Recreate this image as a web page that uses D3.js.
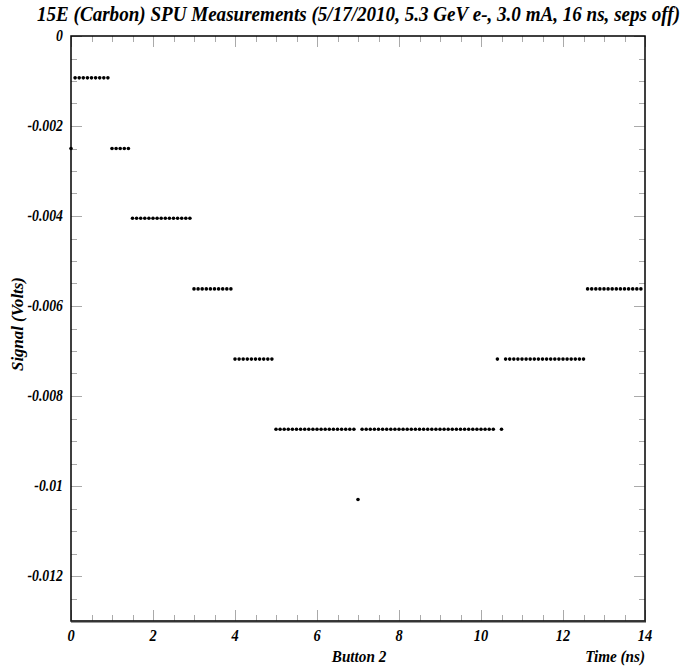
<!DOCTYPE html>
<html>
<head>
<meta charset="utf-8">
<script src="https://cdn.jsdelivr.net/npm/d3@7"></script>
<style>
  body { margin: 0; background: #fff; }
  svg text { font-family: "Liberation Serif", "DejaVu Serif", serif; font-weight: bold; font-style: italic; fill: #000; }
</style>
</head>
<body>
<svg width="686" height="672"></svg>
<script>
// sample spacing of the scope trace (ns)
var step = 0.1;

// measured signal (V), one line per ns, samples at 0.0, 0.1, ... 0.9
var signal = [
  -0.0025, -0.00093, -0.00093, -0.00093, -0.00093, -0.00093, -0.00093, -0.00093, -0.00093, -0.00093,
  -0.0025, -0.0025, -0.0025, -0.0025, -0.0025, -0.00405, -0.00405, -0.00405, -0.00405, -0.00405,
  -0.00405, -0.00405, -0.00405, -0.00405, -0.00405, -0.00405, -0.00405, -0.00405, -0.00405, -0.00405,
  -0.00562, -0.00562, -0.00562, -0.00562, -0.00562, -0.00562, -0.00562, -0.00562, -0.00562, -0.00562,
  -0.00718, -0.00718, -0.00718, -0.00718, -0.00718, -0.00718, -0.00718, -0.00718, -0.00718, -0.00718,
  -0.00874, -0.00874, -0.00874, -0.00874, -0.00874, -0.00874, -0.00874, -0.00874, -0.00874, -0.00874,
  -0.00874, -0.00874, -0.00874, -0.00874, -0.00874, -0.00874, -0.00874, -0.00874, -0.00874, -0.00874,
  -0.0103, -0.00874, -0.00874, -0.00874, -0.00874, -0.00874, -0.00874, -0.00874, -0.00874, -0.00874,
  -0.00874, -0.00874, -0.00874, -0.00874, -0.00874, -0.00874, -0.00874, -0.00874, -0.00874, -0.00874,
  -0.00874, -0.00874, -0.00874, -0.00874, -0.00874, -0.00874, -0.00874, -0.00874, -0.00874, -0.00874,
  -0.00874, -0.00874, -0.00874, -0.00874, -0.00718, -0.00874, -0.00718, -0.00718, -0.00718, -0.00718,
  -0.00718, -0.00718, -0.00718, -0.00718, -0.00718, -0.00718, -0.00718, -0.00718, -0.00718, -0.00718,
  -0.00718, -0.00718, -0.00718, -0.00718, -0.00718, -0.00718, -0.00562, -0.00562, -0.00562, -0.00562,
  -0.00562, -0.00562, -0.00562, -0.00562, -0.00562, -0.00562, -0.00562, -0.00562, -0.00562, -0.00562
];

var xTicks = [0, 2, 4, 6, 8, 10, 12, 14];
var yTicks = [0, -0.002, -0.004, -0.006, -0.008, -0.01, -0.012];
var yTickLabels = ["0", "-0.002", "-0.004", "-0.006", "-0.008", "-0.01", "-0.012"];

var title = "15E (Carbon) SPU Measurements (5/17/2010, 5.3 GeV e-, 3.0 mA, 16 ns, seps off)";

var svg = d3.select("svg");
var pl = 71, pr = 645, pt = 36, pb = 621;

var x = d3.scaleLinear().domain([0, 14]).range([pl, pr]);
var y = d3.scaleLinear().domain([-0.013, 0]).range([pb, pt]);

// minor ticks every quarter of a major division
var xMinor = d3.range(0, 14.01, 0.5);
var yMinor = d3.range(0, -0.01301, -0.0005);

// narrower glyphs like the original Times bold italic
function condense(sel, k) {
  sel.each(function() {
    var w = this.getComputedTextLength();
    d3.select(this).attr("textLength", w * k).attr("lengthAdjust", "spacingAndGlyphs");
  });
}

var ticks = svg.append("g").attr("stroke", "#aaa").attr("stroke-width", 1);

function isMajor(v, stepMajor) {
  var r = Math.abs(v / stepMajor - Math.round(v / stepMajor));
  return r < 1e-6;
}

xMinor.forEach(function(v) {
  var len = isMajor(v, 2) ? 11 : 6;
  var px = Math.round(x(v)) + 0.5;
  ticks.append("line").attr("x1", px).attr("x2", px).attr("y1", pb).attr("y2", pb - len);
  ticks.append("line").attr("x1", px).attr("x2", px).attr("y1", pt).attr("y2", pt + len);
});
yMinor.forEach(function(v) {
  var len = isMajor(v, 0.002) ? 11 : 6;
  var py = Math.round(y(v)) + 0.5;
  ticks.append("line").attr("x1", pl).attr("x2", pl + len).attr("y1", py).attr("y2", py);
  ticks.append("line").attr("x1", pr).attr("x2", pr - len).attr("y1", py).attr("y2", py);
});

// frame
svg.append("rect")
  .attr("x", pl).attr("y", pt)
  .attr("width", pr - pl).attr("height", pb - pt)
  .attr("fill", "none").attr("stroke", "#000").attr("stroke-width", 1.5);
svg.append("line")
  .attr("x1", pl).attr("x2", pr + 1)
  .attr("y1", pb + 0.5).attr("y2", pb + 0.5)
  .attr("stroke", "#333").attr("stroke-width", 2);

// points
svg.append("g").selectAll("circle")
  .data(signal)
  .enter().append("circle")
  .attr("cx", function(d, i) { return x(i * step); })
  .attr("cy", function(d) { return y(d); })
  .attr("r", 1.8)
  .attr("fill", "#000");

// tick labels
svg.append("g").selectAll("text")
  .data(xTicks)
  .enter().append("text")
  .attr("x", function(d) { return x(d); })
  .attr("y", 641)
  .attr("text-anchor", "middle")
  .attr("font-size", 16)
  .text(function(d) { return d; })
  .call(condense, 0.9);

svg.append("g").selectAll("text")
  .data(yTicks)
  .enter().append("text")
  .attr("x", 63)
  .attr("y", function(d) { return y(d) + 5; })
  .attr("text-anchor", "end")
  .attr("font-size", 16)
  .text(function(d, i) { return yTickLabels[i]; })
  .call(condense, 0.86);

// titles
svg.append("text")
  .attr("x", 680).attr("y", 21)
  .attr("text-anchor", "end")
  .attr("font-size", 20)
  .attr("textLength", 643)
  .attr("lengthAdjust", "spacingAndGlyphs")
  .text(title);

svg.append("text")
  .attr("x", 359).attr("y", 662)
  .attr("text-anchor", "middle")
  .attr("font-size", 16)
  .text("Button 2")
  .call(condense, 0.95);

svg.append("text")
  .attr("x", 645).attr("y", 662)
  .attr("text-anchor", "end")
  .attr("font-size", 16)
  .text("Time (ns)")
  .call(condense, 0.95);

svg.append("text")
  .attr("transform", "translate(23,324) rotate(-90)")
  .attr("text-anchor", "middle")
  .attr("font-size", 16)
  .text("Signal (Volts)")
  .call(condense, 1.05);
</script>
</body>
</html>
